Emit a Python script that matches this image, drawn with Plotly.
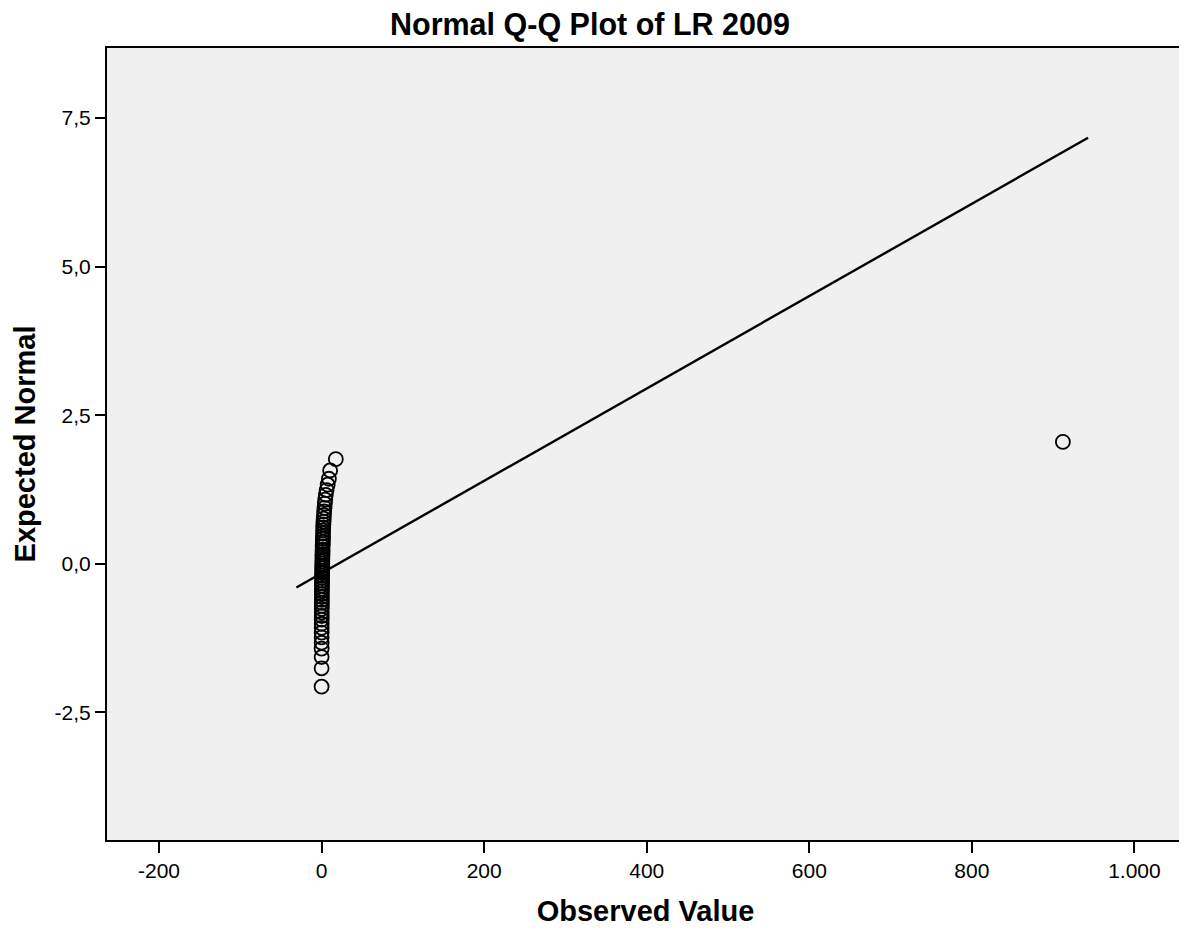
import plotly.graph_objects as go

# Observed values (x) and expected normal quantiles (y)
observed = [912, 17.5, 10.5, 9.0, 7.5, 6.2, 5.2, 4.5, 4.0, 3.6, 3.2, 2.9, 2.6, 2.4, 2.2,
            2.0, 1.9, 1.8, 1.7, 1.6, 1.5, 1.4, 1.3, 1.25, 1.2, 1.1, 1.05, 1.0, 0.95, 0.9,
            0.85, 0.8, 0.75, 0.7, 0.65, 0.6, 0.55, 0.5, 0.45, 0.42, 0.4, 0.37, 0.34, 0.31,
            0.28, 0.25, 0.22, 0.2, 0.18, 0.16, 0.14, 0.12, 0.1, 0.08, 0.06, 0.05, 0.04,
            0.02, 0.01]
expected = [2.05, 1.76, 1.57, 1.43, 1.33, 1.24, 1.16, 1.08, 1.01, 0.94, 0.88, 0.82, 0.76,
            0.71, 0.66, 0.61, 0.56, 0.51, 0.46, 0.42, 0.37, 0.33, 0.29, 0.24, 0.20, 0.16,
            0.12, 0.08, 0.04, 0.00, -0.04, -0.08, -0.12, -0.16, -0.20, -0.24, -0.29, -0.33,
            -0.37, -0.42, -0.46, -0.51, -0.56, -0.61, -0.66, -0.71, -0.76, -0.82, -0.88,
            -0.94, -1.01, -1.08, -1.16, -1.24, -1.33, -1.43, -1.57, -1.76, -2.07]

# Reference line endpoints
line_x = [-31, 943]
line_y = [-0.40, 7.17]

x_tickvals = [-200, 0, 200, 400, 600, 800, 1000]
x_ticktext = ["-200", "0", "200", "400", "600", "800", "1.000"]
y_tickvals = [-2.5, 0.0, 2.5, 5.0, 7.5]
y_ticktext = ["-2,5", "0,0", "2,5", "5,0", "7,5"]

FONT = "Liberation Sans, Arial, sans-serif"

fig = go.Figure()
fig.add_trace(go.Scatter(x=line_x, y=line_y, mode="lines",
                         line=dict(color="black", width=2.4), hoverinfo="skip",
                         showlegend=False))
fig.add_trace(go.Scatter(x=observed, y=expected, mode="markers",
                         marker=dict(symbol="circle-open", size=14, color="black",
                                     line=dict(width=1.8)),
                         showlegend=False))

fig.update_layout(
    width=1179, height=922,
    margin=dict(l=99, r=1, t=40, b=90),
    paper_bgcolor="white", plot_bgcolor="#f0f0f0",
    font=dict(family=FONT, color="black", size=21),
    title=dict(text="<b>Normal Q-Q Plot of LR 2009</b>", x=0.4936, xanchor="center",
               y=0.982, yanchor="middle", font=dict(size=30.5, family=FONT)),
)
fig.update_xaxes(range=[-264, 1061], tickvals=x_tickvals, ticktext=x_ticktext,
                 ticks="outside", ticklen=11, tickwidth=2, tickcolor="black",
                 tickfont=dict(size=21),
                 showgrid=False, zeroline=False, showline=True, linecolor="black",
                 linewidth=2, mirror=True,
                 title=dict(text="<b>Observed Value</b>", font=dict(size=29, family=FONT),
                            standoff=19))
fig.update_yaxes(range=[-4.65, 8.68], tickvals=y_tickvals, ticktext=y_ticktext,
                 ticks="outside", ticklen=10, tickwidth=2, tickcolor="black",
                 tickfont=dict(size=21),
                 showgrid=False, zeroline=False, showline=True, linecolor="black",
                 linewidth=2, mirror=True,
                 title=dict(text="<b>Expected Normal</b>", font=dict(size=29, family=FONT),
                            standoff=10))

fig.write_html("out.html")
